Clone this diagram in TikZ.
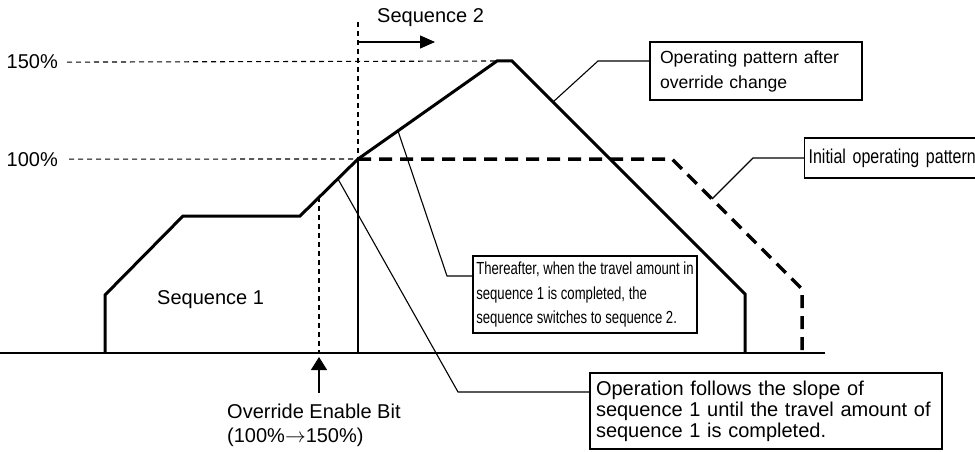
\documentclass[tikz,border=0pt]{standalone}
\usepackage{fontspec}
\setmainfont{Liberation Sans}
\newfontfamily\narrowfont[FakeStretch=0.75]{Liberation Sans}
\newfontfamily\initfont[FakeStretch=0.8]{Liberation Sans}
\usetikzlibrary{arrows.meta,positioning,calc}

\begin{document}
\begin{tikzpicture}[x=1pt,y=-1pt, font=\fontsize{20}{21}\selectfont,
  pat/.style={line width=3pt,line join=miter},
  initpat/.style={line width=3.5pt,dash pattern=on 13pt off 8pt},
  guide/.style={line width=1.1pt,dash pattern=on 5pt off 4pt},
  lead/.style={line width=1.1pt},
  note/.style={draw,line width=1.2pt,align=left}]
  \useasboundingbox (0,0) rectangle (975,452);
  % axis
  \coordinate (o) at (0,353); \coordinate (axend) at (825,353);
  \draw[lead] (o) -- (axend);
  % pattern after override change
  \coordinate (s0) at (105,353); \coordinate (s1) at (105,295);
  \coordinate (s2) at (183,216); \coordinate (s3) at (300,216);
  \coordinate (sw) at (358,159); \coordinate (pk1) at (497,61);
  \coordinate (pk2) at (512,61); \coordinate (d1) at (745,294);
  \coordinate (d0) at (745,353);
  \draw[pat] (s0)--(s1)--(s2)--(s3)--(sw)--(pk1)--(pk2)--(d1)--(d0);
  % initial pattern
  \coordinate (i1) at (672,159); \coordinate (i2) at (802,289);
  \coordinate (i0) at (802,353);
  \draw[initpat] (sw)--(i1)--(i2)--(i0);
  % levels
  \node[anchor=base east,inner sep=0] (l150) at (58,69) {150\%};
  \node[anchor=base east,inner sep=0] (l100) at (58,166) {100\%};
  \draw[guide] ($(l150.east)+(9,0)$) -- (pk1);
  \draw[guide] ($(l100.east)+(11,0)$) -- (sw);
  % sequence switch
  \coordinate (swtop) at (358,22); \coordinate (swbot) at (358,353);
  \draw[guide] (swtop) -- (sw);
  \draw[lead] (sw) -- (swbot);
  \coordinate (a2) at (358,42);
  \draw[lead,-{Triangle[length=15pt,width=13pt]}] (a2) -- ++(77,0) coordinate (a2e);
  \node[anchor=base west,inner sep=0] (seq2) at (377,23) {Sequence 2};
  \node[anchor=base west,inner sep=0] (seq1) at (157,304) {Sequence 1};
  % override enable bit
  \coordinate (ov) at (319,197); \coordinate (ovb) at (319,353);
  \draw[guide] (ov) -- (ovb);
  \coordinate (ovs) at (319,393);
  \draw[lead,-{Triangle[length=13pt,width=16pt]}] (ovs) -- ($(ovb)+(0,4)$);
  \node[anchor=north west,inner sep=0,align=left,font=\fontsize{20}{24}\selectfont] (ovtxt) at (227,403.5)
    {Override Enable Bit\\(100\%\(\rightarrow\)150\%)};
  % notes
  \node[note,text width=192pt,inner xsep=10pt,minimum height=58pt,
    font=\fontsize{17.6}{25}\selectfont] (after) at (756,71)
    {Operating pattern after\\override change};
  \node[note,anchor=west,text width=175pt,inner xsep=4pt,minimum height=40pt,
    font=\initfont\fontsize{20}{21}\selectfont] (init) at (804,158)
    {Initial operating pattern};
  \node[note,minimum width=224pt,minimum height=77pt,
    font=\narrowfont\fontsize{17.5}{24.5}\selectfont] (there) at (585,294.5)
    {Thereafter, when the travel amount in\\sequence 1 is completed, the\\sequence switches to sequence 2.};
  \node[note,text width=340pt,inner xsep=6pt,minimum height=76pt] (op) at (766,411)
    {Operation follows the slope of\\sequence 1 until the travel amount of\\sequence 1 is completed.};
  % leaders
  \coordinate (kAfter) at (553,102); \coordinate (bAfter) at (598,61);
  \draw[lead] (kAfter) -- (bAfter) -- (bAfter -| after.west);
  \coordinate (kInit) at (712,199); \coordinate (bInit) at (753,158);
  \draw[lead] (kInit) -- (bInit) -- (init.west);
  \coordinate (kThere) at (398,131); \coordinate (bThere) at (447,276);
  \draw[lead] (kThere) -- (bThere) -- (bThere -| there.west);
  \coordinate (kOp) at (338,179); \coordinate (bOp) at (458,392);
  \draw[lead] (kOp) -- (bOp) -- (bOp -| op.west);
\end{tikzpicture}
\end{document}
